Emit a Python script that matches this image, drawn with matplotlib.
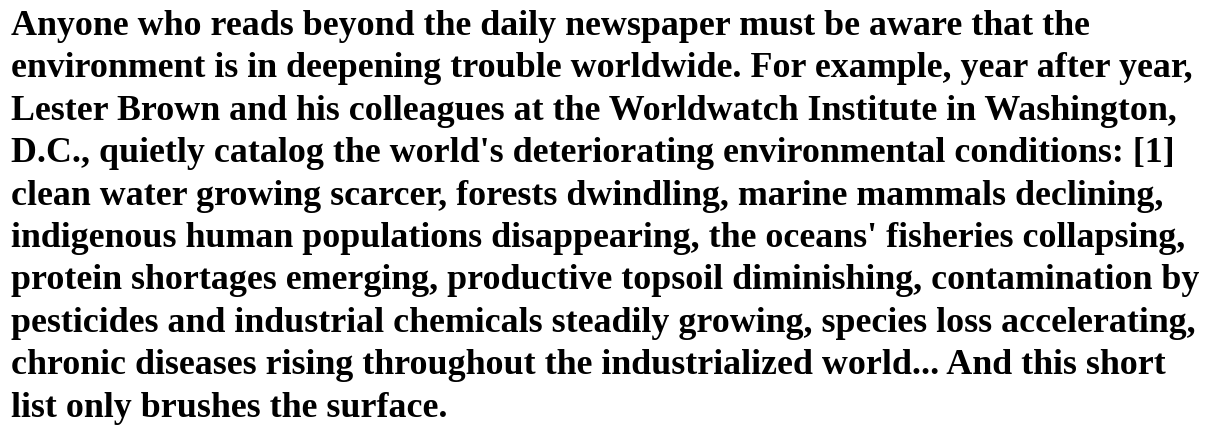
import matplotlib
matplotlib.use("Agg")
import matplotlib.pyplot as plt

lines = [
    "Anyone who reads beyond the daily newspaper must be aware that the",
    "environment is in deepening trouble worldwide. For example, year after year,",
    "Lester Brown and his colleagues at the Worldwatch Institute in Washington,",
    "D.C., quietly catalog the world's deteriorating environmental conditions: [1]",
    "clean water growing scarcer, forests dwindling, marine mammals declining,",
    "indigenous human populations disappearing, the oceans' fisheries collapsing,",
    "protein shortages emerging, productive topsoil diminishing, contamination by",
    "pesticides and industrial chemicals steadily growing, species loss accelerating,",
    "chronic diseases rising throughout the industrialized world... And this short",
    "list only brushes the surface.",
]

W, H = 1214, 425
fig = plt.figure(figsize=(W / 100, H / 100), dpi=100)
fig.patch.set_facecolor("white")

x0 = 11
baseline_first = 35
step = 42.4
for i, t in enumerate(lines):
    y = baseline_first + i * step
    fig.text(x0 / W, 1 - y / H, t, fontsize=25.8, fontweight="bold",
             family="Liberation Serif", color="black", va="baseline", ha="left")

fig.savefig("out.png", dpi=100)
